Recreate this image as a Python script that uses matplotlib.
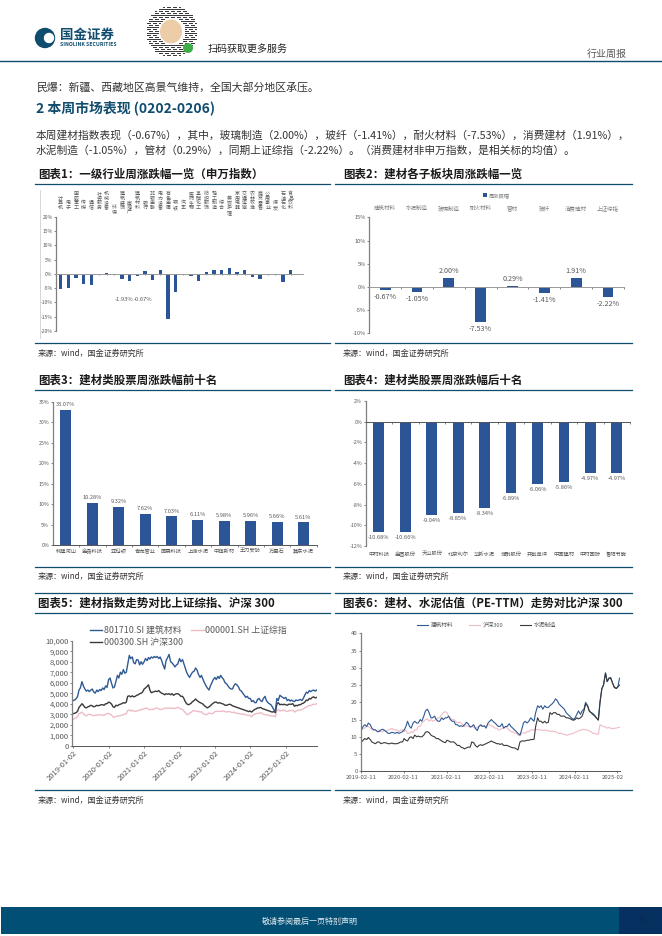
#!/usr/bin/env python3

# plot.py - weekly report page with six building materials charts

import matplotlib
matplotlib.use("Agg")
import matplotlib.dates as mdates
import matplotlib.pyplot as plt
from matplotlib.patches import Circle, Ellipse, Rectangle
from matplotlib.transforms import Bbox
import pandas as pd

plt.rcParams["font.family"] = ["Noto Sans CJK SC", "DejaVu Sans"]
plt.rcParams["axes.unicode_minus"] = False

W, H = 662, 936
TEAL = "#0f4c6e"
BAR = "#2b5597"
GREY = "#595959"
TEXT = "#333333"
PINK = "#efbcc6"
DARK = "#3a3a3a"
BLUE = "#2f5a94"

industries = ["计算机", "电子", "国防军工", "传媒", "通信", "社会服务", "机械设备", "环保",
              "建筑装饰", "房地产", "建筑材料", "银行", "非银金融", "电力设备", "有色金属",
              "钢铁", "汽车", "医药生物", "基础化工", "纺织服饰", "轻工制造", "综合",
              "美容护理", "家用电器", "交通运输", "农林牧渔", "商贸零售", "公用事业",
              "煤炭", "石油石化", "食品饮料"]
industry_chg = [-5.2, -4.8, -1.3, -3.6, -3.8, -0.1, 0.4, -0.3, -1.93, -2.6, -0.67, 1.0,
                -2.3, 1.4, -15.7, -6.2, -0.1, -0.9, -2.5, 0.8, 1.2, 1.3, 1.9, 0.5, 1.4,
                -1.2, -1.9, -0.2, -0.4, -2.8, 1.2]
lowered_labels = ["环保", "房地产", "美容护理"]

sectors = ["建筑材料", "水泥制造", "玻璃制造", "耐火材料", "管材", "玻纤", "消费建材", "上证综指"]
sector_chg = [-0.67, -1.05, 2.00, -7.53, 0.29, -1.41, 1.91, -2.22]

top_names = ["韩建河山", "金晶科技", "亚玛顿", "青龙管业", "国晟科技", "上峰水泥", "中旗新材",
             "王力安防", "万里石", "冀东水泥"]
top_chg = [33.07, 10.28, 9.32, 7.62, 7.03, 6.11, 5.98, 5.96, 5.66, 5.61]

bottom_names = ["中材科技", "金圆股份", "天山股份", "北京利尔", "华新水泥", "濮耐股份", "共创草坪",
                "中国建材", "中材国际", "鲁阳节能"]
bottom_chg = [-10.68, -10.66, -9.04, -8.85, -8.34, -6.89, -6.06, -5.86, -4.97, -4.97]

# half-monthly readings, one row per year
index_sw = [4300, 4350, 4500, 4700, 5300, 5500, 6100, 5700, 5400, 5200, 5300, 5150, 5300, 5400, 5100, 5000, 5300, 5150, 5350, 5250, 5500, 5350, 5700, 5550,
            6300, 6450, 5900, 5500, 5600, 6100, 6700, 6450, 7000, 6800, 7250, 6900, 7000, 7700, 8600, 8300, 8450, 7900, 7800, 8200, 8150, 7700, 8000, 7750,
            8000, 8300, 8100, 8400, 8250, 8450, 8350, 8500, 8400, 8500, 8300, 8450, 8100, 7700, 7300, 8100, 8400, 8700, 8000, 7900, 7700, 7500, 7700, 7800,
            8300, 8000, 8200, 7800, 7400, 7000, 6700, 6500, 6800, 7000, 7100, 7400, 7200, 6800, 6500, 6700, 6300, 6000, 5700, 5500, 5300, 5700, 6000, 6300,
            6500, 6300, 6600, 6400, 6700, 6500, 6300, 6000, 5900, 5700, 5500, 5400, 5400, 5700, 5900, 5800, 5600, 5300, 5200, 5000, 4800, 4600, 4700, 4500,
            4500, 4200, 4300, 4100, 4100, 4400, 4500, 4300, 4200, 4500, 4700, 4300, 4100, 4000, 3900, 3700, 3400, 3300, 4500, 4300, 4800, 4700, 4600, 4500,
            4600, 4300, 4400, 4250, 4350, 4250, 4200, 4350, 4300, 4350, 4400, 4300, 4500, 4800, 5100, 5000, 5250, 5150, 5250, 5300, 5200, 5300]
index_hs300 = [3050, 3100, 3150, 3300, 3650, 3800, 4000, 3850, 3650, 3600, 3700, 3750, 3850, 3800, 3700, 3750, 3850, 3800, 3850, 3900, 3900, 3850, 4000, 4000,
               4150, 4100, 3950, 3700, 3650, 3850, 3800, 3900, 3950, 4000, 4100, 4050, 4150, 4700, 4750, 4650, 4750, 4650, 4700, 4800, 4850, 4950, 5000, 5100,
               5400, 5500, 5650, 5800, 5300, 5050, 5100, 5150, 5200, 5150, 5250, 5100, 5000, 4950, 4850, 4950, 4900, 4950, 4850, 4950, 4800, 4900, 4950, 4950,
               4850, 4700, 4700, 4500, 4200, 4000, 3900, 3950, 4050, 4200, 4300, 4450, 4300, 4200, 4100, 4050, 3950, 3800, 3700, 3600, 3700, 3800, 3950, 4050,
               4150, 4150, 4050, 4100, 4050, 4000, 3950, 3850, 3850, 3900, 3950, 3900, 3800, 3750, 3700, 3650, 3600, 3550, 3500, 3450, 3400, 3350, 3300, 3250,
               3300, 3200, 3350, 3450, 3500, 3600, 3600, 3650, 3550, 3500, 3450, 3400, 3350, 3300, 3250, 3200, 3250, 3150, 3950, 4100, 3900, 3950, 3900, 3950,
               3900, 3850, 3950, 3950, 3950, 4000, 3750, 3850, 3800, 3900, 3900, 4000, 4050, 4150, 4350, 4300, 4500, 4450, 4600, 4650, 4550, 4600]
index_sh = [2500, 2600, 2650, 2800, 3050, 3100, 3200, 3050, 2900, 2850, 2950, 3000, 2950, 2900, 2850, 2900, 2950, 2900, 2950, 2950, 2900, 2880, 3000, 3050,
            3080, 3000, 2900, 2750, 2700, 2800, 2820, 2850, 2880, 2900, 2950, 3000, 3050, 3350, 3400, 3300, 3380, 3300, 3250, 3300, 3350, 3400, 3450, 3450,
            3500, 3600, 3550, 3500, 3420, 3450, 3450, 3500, 3580, 3600, 3500, 3450, 3450, 3500, 3550, 3600, 3550, 3600, 3550, 3580, 3540, 3550, 3620, 3650,
            3550, 3480, 3450, 3300, 3150, 3000, 2950, 3100, 3180, 3300, 3350, 3300, 3250, 3280, 3200, 3250, 3050, 3000, 2950, 3000, 3100, 3080, 3050, 3100,
            3250, 3280, 3250, 3300, 3250, 3300, 3300, 3250, 3200, 3250, 3250, 3200, 3150, 3200, 3120, 3100, 3050, 3050, 3000, 3000, 3000, 2950, 2880, 2900,
            2850, 2750, 2950, 3000, 3050, 3080, 3080, 3150, 3100, 3000, 2950, 2950, 2900, 2880, 2850, 2800, 2850, 2750, 3350, 3450, 3300, 3350, 3350, 3400,
            3300, 3250, 3300, 3350, 3350, 3380, 3200, 3300, 3350, 3400, 3400, 3450, 3500, 3600, 3700, 3750, 3850, 3800, 3900, 3950, 3950, 3980]
index_ticks = ["2019-01-02", "2020-01-02", "2021-01-02", "2022-01-02", "2023-01-02",
               "2024-01-02", "2025-01-02"]

pe_material = [12, 13, 13.5, 13, 14, 13.5, 12.5, 12, 12, 11.5, 11.5, 12, 12.2, 11.8, 11.5, 11, 11, 11.3, 11.2, 11, 11.3, 11, 11.2, 11.5,
               12, 13, 14.5, 13, 12.5, 14, 14.5, 14, 14, 15, 14.5, 16, 17.5, 18, 17, 15.5, 15.5, 16, 15, 14.5, 14.5, 15.5, 15, 15.5,
               15.5, 16, 15, 14.5, 14.5, 13.5, 13.5, 13, 13.2, 13, 13.5, 14.2, 13.8, 12.8, 13, 13.5, 12.5, 11.8, 13, 13.5, 13, 13.2, 12.5, 14,
               14.5, 15, 14.5, 14, 13.5, 13, 13, 13.8, 12.5, 13, 13, 13.8, 13, 12.5, 12, 11.5, 11, 10.5, 12, 14, 14.5, 14, 14.5, 15.5,
               15, 14.5, 17, 19, 18.5, 19, 18, 19, 18.5, 18.5, 19, 19.5, 20, 21, 20.5, 19.5, 19, 18.5, 18, 17, 16.5, 16, 15.5, 15,
               15.5, 16.5, 17.5, 16.5, 17.5, 18, 20, 19, 17.5, 17, 16.8, 16.2, 15.5, 15, 20, 24, 25, 28.5, 26, 27, 27.2, 25.5, 24.5, 24,
               24.5, 27]
pe_hs300 = [12, 12.5, 12.5, 13, 13, 12.5, 12, 12, 12, 11.5, 12, 11.5, 11.5, 12, 11.5, 12, 12, 12.5, 12, 12, 12, 11.5, 12, 12,
            11.5, 12, 11, 11, 11.5, 11.2, 12, 12, 13, 13, 14, 14.5, 15, 15.2, 14.5, 15, 14.5, 14.8, 15, 15.5, 15.5, 16.5, 17, 17.3,
            17, 16, 15.5, 15, 15, 14.5, 14, 14.2, 14, 13.5, 13, 13.2, 13, 13, 13, 12.8, 12.5, 12.8, 13, 13.2, 13, 13, 13, 13.5,
            13.5, 13.2, 13, 12.5, 12.5, 12, 12, 12.5, 12.5, 13, 12.5, 12, 11.5, 11.5, 11, 11, 10.5, 10.3, 11, 11.2, 11, 11.5, 11.5, 12,
            12, 12, 12, 12.2, 12, 12, 11.8, 12, 11.8, 11.8, 11.5, 11.7, 11.5, 11.5, 11.2, 11, 11, 10.8, 10.7, 10.5, 10.5, 10.8, 10.8, 11,
            11.3, 11.5, 11.7, 12, 12, 12.2, 12, 12, 11.7, 11.5, 11, 11, 10.8, 10.7, 13.5, 13.2, 13, 12.8, 12.5, 12.7, 12.5, 12.3, 12.5, 12.5,
            12.7, 12.7]
pe_cement = [8.5, 9, 9.5, 9.2, 9.8, 9.2, 8.5, 8.2, 8, 8.5, 8.5, 8, 8.2, 8.3, 8.2, 8, 8, 8.2, 8, 8, 8, 8.2, 8.5, 8.5,
             9.5, 9, 8.8, 9.8, 10, 9.5, 10.5, 10, 10.2, 10, 10, 10.5, 11.3, 11.5, 11.2, 10.5, 10.2, 10, 9.5, 9.5, 9.2, 8.8, 8.5, 8.3,
             9, 8.8, 8.5, 8.5, 8.5, 8, 7.5, 7.5, 7, 6.8, 6.5, 6.8, 7, 7, 8.5, 8.3, 7.5, 7, 7.5, 7.7, 7.5, 7.8, 8, 8.3,
             8.5, 8.8, 8.5, 8.3, 8, 8, 7.8, 8, 7.5, 7.5, 7.5, 7.2, 7, 6.8, 6.8, 6.5, 6.2, 8.5, 8.8, 8.8, 8.8, 9, 9, 9.2,
             9.2, 9.3, 13, 15.5, 14.5, 14.5, 14, 14.5, 14, 14.2, 17, 16.5, 17, 17, 16.5, 16.5, 16, 16, 16, 15.5, 15.5, 15.3, 15, 14.8,
             15, 15.5, 15.2, 15.5, 16, 17.5, 19.5, 19, 17.5, 17, 16.5, 16, 15.5, 14.8, 20, 24, 25, 28.5, 26, 27, 27, 25.5, 24.3, 24,
             24.5, 25]
pe_ticks = ["2019-02-11", "2020-02-11", "2021-02-11", "2022-02-11", "2023-02-11",
            "2024-02-11", "2025-02-11"]

titles = ["图表1：一级行业周涨跌幅一览（申万指数）", "图表2：建材各子板块周涨跌幅一览",
          "图表3：建材类股票周涨跌幅前十名", "图表4：建材类股票周涨跌幅后十名",
          "图表5：建材指数走势对比上证综指、沪深 300", "图表6：建材、水泥估值（PE-TTM）走势对比沪深 300"]
source = "来源：wind，国金证券研究所"


def px_axes(fig, left, top, right, bottom):
    ax = fig.add_axes([left / W, 1 - bottom / H, (right - left) / W, (bottom - top) / H])
    ax.patch.set_alpha(0)
    return ax


def style_axes(ax, size=4.0):
    for side in ["top", "right"]:
        ax.spines[side].set_visible(False)
    ax.spines["left"].set_color("#7f7f7f")
    ax.spines["left"].set_linewidth(0.9)
    ax.spines["bottom"].set_color("#555555")
    ax.spines["bottom"].set_linewidth(0.7)
    ax.tick_params(axis="both", labelsize=size, labelcolor=GREY, length=1.5, width=0.5,
                   color="#555555", pad=1)


def percent(values):
    return [f"{v}%" for v in values]


def draw_page(page):
    # header
    page.add_patch(Circle((45, 38), 9.5, color=TEAL))
    page.add_patch(Circle((49, 38), 4.5, color="white"))
    page.text(60, 35, "国金证券", fontsize=9.7, fontweight="bold", color=TEAL, va="center")
    page.text(60, 44, "SINOLINK SECURITIES", fontsize=3.7, fontweight="bold", color=TEAL, va="center")
    for i in range(27):
        for j in range(27):
            dx, dy = (i - 13) / 13, (j - 13) / 13
            r = dx * dx + dy * dy
            if 0.25 < r < 1.0 and (i * 7 + j * 13 + i * j) % 3:
                page.add_patch(Rectangle((172 + dx * 26 - 0.8, 31.5 + dy * 26 - 0.8), 1.7, 1.7,
                                         color="#3a3a3a", lw=0))
    page.add_patch(Ellipse((171, 31.5), 22, 24, color="#eccda8", lw=0))
    page.add_patch(Circle((188, 48), 5, color="#3fae49", lw=0))
    page.text(208, 48.5, "扫码获取更多服务", fontsize=7.2, color="#222222", va="center")
    page.text(587, 53.5, "行业周报", fontsize=7.2, color=GREY, va="center")
    page.plot([0, 662], [61, 61], color=TEAL, lw=1.0)

    # body text
    page.text(36, 87, "民爆：新疆、西藏地区高景气维持，全国大部分地区承压。", fontsize=7.8, color=TEXT, va="center")
    page.text(36, 108, "2 本周市场表现 (0202-0206)", fontsize=10, fontweight="bold", color=TEAL, va="center")
    page.text(36, 135, "本周建材指数表现（-0.67%），其中，玻璃制造（2.00%），玻纤（-1.41%），耐火材料（-7.53%），消费建材（1.91%），",
              fontsize=7.72, color=TEXT, va="center")
    page.text(36, 150, "水泥制造（-1.05%），管材（0.29%），同期上证综指（-2.22%）。（消费建材非申万指数，是相关标的均值）。",
              fontsize=7.72, color=TEXT, va="center")

    # chart titles, rules and sources
    rows = [(174, 184.3, 343, 353), (380, 390, 567, 576), (603, 613, 790, 800)]
    for n, (title_y, rule_y, foot_y, src_y) in enumerate(rows):
        for c, (x0, x1, tx) in enumerate([(35, 330, 38), (335, 632, 343)]):
            page.text(tx, title_y, titles[n * 2 + c], fontsize=8.25, fontweight="bold",
                      color="#1a1a1a", va="center")
            page.plot([x0, x1], [rule_y, rule_y], color=TEAL, lw=0.9)
            page.plot([x0, x1], [foot_y, foot_y], color=TEAL, lw=0.9)
            page.text(tx, src_y, source, fontsize=5.8, color=TEXT, va="center")
    page.plot([35, 330], [592.5, 592.5], color=TEAL, lw=0.9)
    page.plot([335, 632], [592.5, 592.5], color=TEAL, lw=0.9)
    page.plot([40, 40], [190, 338], color="#d0d0d0", lw=0.6)

    # footer
    page.add_patch(Rectangle((1, 907), 618, 27, color="#024f75", lw=0))
    page.add_patch(Rectangle((619, 907), 43, 27, color="#06305f", lw=0))
    page.text(310, 921, "敬请参阅最后一页特别声明", fontsize=5.8, color="#dfe9ee", ha="center", va="center")
    page.text(642, 921, "5", fontsize=8, color="#0a2a55", ha="center", va="center")


def chart_industry(fig):
    ax = px_axes(fig, 56, 216.7, 302.7, 331)
    style_axes(ax, 3.6)
    pos = list(range(len(industries)))
    ax.bar(pos, industry_chg, width=0.45, color=BAR)
    ax.set_xlim(-0.6, 31.56)
    ax.set_ylim(-20, 20)
    ax.set_yticks([-20, -15, -10, -5, 0, 5, 10, 15, 20])
    ax.set_yticklabels(percent([-20, -15, -10, -5, 0, 5, 10, 15, 20]))
    ax.spines["bottom"].set_position(("data", 0))
    ax.spines["bottom"].set_color("#999999")
    ax.set_xticks(pos)
    ax.set_xticklabels([])
    ax.tick_params(axis="x", length=1, direction="out")
    for p, name in zip(pos, industries):
        bottom = 215 if name in lowered_labels else 210
        fig.text((ax.get_position().x0 + (p + 0.6) / 32.16 * ax.get_position().width), 1 - bottom / H,
                 "\n".join(name), fontsize=3.6, color=GREY, ha="center", va="bottom", linespacing=0.9)
    ax.text(8.3, -9.1, "-1.93%", fontsize=4.2, color=GREY, ha="center", va="center")
    ax.text(10.8, -8.9, "-0.67%", fontsize=4.2, color=GREY, ha="center", va="center")


def chart_sector(fig):
    ax = px_axes(fig, 369.3, 217.3, 624, 333.3)
    style_axes(ax, 4.0)
    pos = list(range(len(sectors)))
    bars = ax.bar(pos, sector_chg, width=0.34, color=BAR, label="周涨跌幅")
    ax.set_xlim(-0.5, 7.5)
    ax.set_ylim(-10, 15)
    ax.set_yticks([-10, -5, 0, 5, 10, 15])
    ax.set_yticklabels(percent([-10, -5, 0, 5, 10, 15]))
    ax.spines["bottom"].set_position(("data", 0))
    ax.spines["bottom"].set_color("#999999")
    ax.set_xticks([p + 0.5 for p in pos])
    ax.set_xticklabels([])
    ax.xaxis.set_ticks_position("bottom")
    labels = [f"{v:.2f}%" for v in sector_chg]
    ax.bar_label(bars, labels=labels, fontsize=5.2, color=GREY, padding=2)
    for p, name in zip(pos, sectors):
        ax.text(p, 16.9, name, fontsize=4.0, color="#808080", ha="center", va="center")
    ax.legend(loc="center", bbox_to_anchor=(0.5, 1.19), fontsize=3.8, frameon=False, handlelength=0.8,
              handleheight=0.8, handletextpad=0.3, labelcolor="#808080")


def chart_rank(fig, box, names, values, ylim, yticks, zero_axis, name_offset):
    ax = px_axes(fig, *box)
    style_axes(ax, 3.8)
    pos = list(range(len(names)))
    bars = ax.bar(pos, values, width=0.41, color=BAR)
    ax.set_xlim(-0.5, 9.5)
    ax.set_ylim(*ylim)
    ax.set_yticks(yticks)
    ax.set_yticklabels(percent(yticks))
    ax.set_xticks([p + 0.5 for p in pos])
    ax.set_xticklabels([])
    if zero_axis:
        ax.spines["bottom"].set_position(("data", 0))
    ax.bar_label(bars, labels=[f"{v:.2f}%" for v in values], fontsize=4.1, color=GREY, padding=2)
    for p, name in zip(pos, names):
        ax.annotate(name, (p, 0), xycoords=("data", "axes fraction"), xytext=(0, name_offset),
                    textcoords="offset points", fontsize=3.8, color=GREY, ha="center", va="center")


def chart_index(fig):
    dates = pd.date_range("2019-01-01", periods=len(index_sw), freq="SMS")
    ax = px_axes(fig, 72.3, 640.7, 317.3, 745.7)
    style_axes(ax, 5.5)
    ax.plot(dates, index_sh, color=PINK, lw=1.0, label="000001.SH 上证综指")
    ax.plot(dates, index_hs300, color=DARK, lw=1.0, label="000300.SH 沪深300")
    ax.plot(dates, index_sw, color=BLUE, lw=1.0, label="801710.SI 建筑材料")
    ax.set_xlim(mdates.date2num(pd.Timestamp("2018-12-22")), mdates.date2num(pd.Timestamp("2025-11-22")))
    ax.set_ylim(0, 10000)
    ax.set_yticks(range(0, 10001, 1000))
    ax.set_yticklabels([f"{v:,}" for v in range(0, 10001, 1000)])
    ax.set_xticks(pd.to_datetime(index_ticks))
    ax.set_xticklabels(index_ticks, rotation=45, ha="right", rotation_mode="anchor", fontsize=5.5)
    handles, labels = ax.get_legend_handles_labels()
    order = [2, 1, 0]
    ax.legend([handles[i] for i in order], [labels[i] for i in order], ncol=2, loc="upper left",
              bbox_to_anchor=(90 / W, 1 - 626 / H), bbox_transform=fig.transFigure, fontsize=6.4,
              frameon=False, borderpad=0, borderaxespad=0, handlelength=1.4, handletextpad=0.2,
              columnspacing=0.9, labelspacing=0.35, labelcolor=GREY)


def chart_pe(fig):
    dates = pd.date_range("2019-02-15", periods=len(pe_material), freq="SMS")
    ax = px_axes(fig, 361, 633.3, 620, 771.3)
    style_axes(ax, 4.3)
    ax.plot(dates, pe_hs300, color=PINK, lw=0.8, label="沪深300")
    ax.plot(dates, pe_material, color=BLUE, lw=0.8, label="建筑材料")
    ax.plot(dates, pe_cement, color=DARK, lw=0.8, label="水泥制造")
    ax.set_xlim(mdates.date2num(pd.Timestamp("2019-02-11")), mdates.date2num(pd.Timestamp("2025-03-05")))
    ax.set_ylim(0, 40)
    ax.set_yticks(range(0, 41, 5))
    ax.set_xticks(pd.to_datetime(pe_ticks))
    ax.set_xticklabels(pe_ticks)
    # the last date label runs off the picture in the original
    last = ax.get_xticklabels()[-1]
    last.set_clip_box(Bbox([[0, 0], [623, H]]))
    last.set_clip_on(True)
    handles, labels = ax.get_legend_handles_labels()
    order = [1, 0, 2]
    ax.legend([handles[i] for i in order], [labels[i] for i in order], ncol=3, loc="center",
              bbox_to_anchor=(0.485, 1.06), fontsize=4.1, frameon=False, handlelength=1.9,
              handletextpad=0.5, columnspacing=2.8, labelcolor=GREY)


def main():
    fig = plt.figure(figsize=(W / 100, H / 100), dpi=100, facecolor="white")
    page = fig.add_axes([0, 0, 1, 1])
    page.set_xlim(0, W)
    page.set_ylim(H, 0)
    page.axis("off")
    draw_page(page)
    chart_industry(fig)
    chart_sector(fig)
    chart_rank(fig, (52.7, 401.7, 316.7, 545.3), top_names, top_chg, (0, 35), [0, 5, 10, 15, 20, 25, 30, 35], False, -4.3)
    chart_rank(fig, (365.7, 401, 630, 546), bottom_names, bottom_chg, (-12, 2), [-12, -10, -8, -6, -4, -2, 0, 2], True, -6)
    chart_index(fig)
    chart_pe(fig)
    fig.savefig("out.png", dpi=100)


if __name__ == "__main__":
    main()
